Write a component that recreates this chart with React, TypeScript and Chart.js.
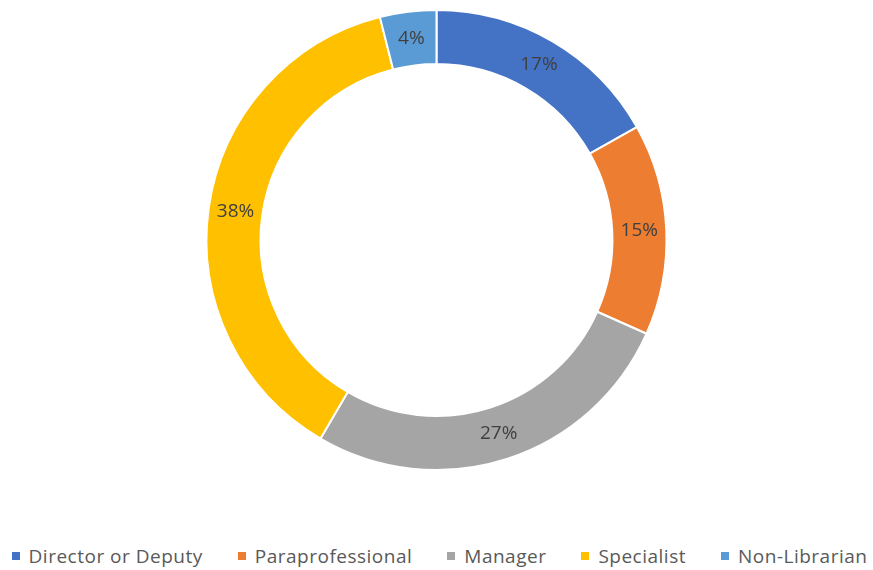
import React, { useEffect, useRef } from "react";
import { Chart, registerables } from "chart.js";

Chart.register(...registerables);

const categories = ["Director or Deputy", "Paraprofessional", "Manager", "Specialist", "Non-Librarian"];
const values = [17, 15, 27, 38, 4];
const colors = ["#4472C4", "#ED7D31", "#A5A5A5", "#FFC000", "#5B9BD5"];

const FONT = "'Open Sans', 'DejaVu Sans', sans-serif";

const labelPlugin = {
  id: "ringLabels",
  afterDatasetsDraw(chart: any) {
    const ctx = chart.ctx;
    const meta = chart.getDatasetMeta(0);
    const total = values.reduce((a, b) => a + b, 0);
    ctx.save();
    ctx.font = `19px ${FONT}`;
    ctx.fillStyle = "#404040";
    ctx.textAlign = "center";
    ctx.textBaseline = "middle";
    meta.data.forEach((arc: any, i: number) => {
      const p = arc.getProps(["x", "y", "startAngle", "endAngle", "innerRadius", "outerRadius"], true);
      const mid = (p.startAngle + p.endAngle) / 2;
      const r = (p.innerRadius + p.outerRadius) / 2;
      const x = p.x + Math.cos(mid) * r;
      const y = p.y + Math.sin(mid) * r;
      ctx.fillText(Math.round((values[i] / total) * 100) + "%", x, y);
    });
    ctx.restore();
  },
};

export default function App() {
  const ref = useRef<HTMLCanvasElement | null>(null);
  useEffect(() => {
    if (!ref.current) return;
    const chart = new Chart(ref.current, {
      type: "doughnut",
      data: {
        labels: categories,
        datasets: [
          {
            data: values,
            backgroundColor: colors,
            borderColor: "#ffffff",
            borderWidth: 2,
          },
        ],
      },
      options: {
        animation: false,
        responsive: false,
        radius: 230,
        cutout: "76.5%",
        layout: { padding: 0 },
        plugins: {
          legend: { display: false },
          tooltip: { enabled: false },
        },
      } as any,
      plugins: [labelPlugin],
    });
    return () => chart.destroy();
  }, []);

  return (
    <div style={{ position: "absolute", left: 0, top: 0, width: 873, height: 570, background: "#fff", fontFamily: FONT }}>
      <canvas ref={ref} width={873} height={480} style={{ display: "block", width: 873, height: 480 }} />
      <div
        style={{
          position: "absolute",
          left: 3,
          top: 543,
          width: 873,
          display: "flex",
          justifyContent: "center",
          gap: 35,
          fontSize: 19,
          letterSpacing: "0.5px",
          color: "#595959",
          lineHeight: "26px",
          whiteSpace: "nowrap",
        }}
      >
        {categories.map((c, i) => (
          <div key={c} style={{ display: "flex", alignItems: "center" }}>
            <span style={{ display: "inline-block", width: 8, height: 8, background: colors[i], marginRight: 9 }} />
            <span>{c}</span>
          </div>
        ))}
      </div>
    </div>
  );
}
